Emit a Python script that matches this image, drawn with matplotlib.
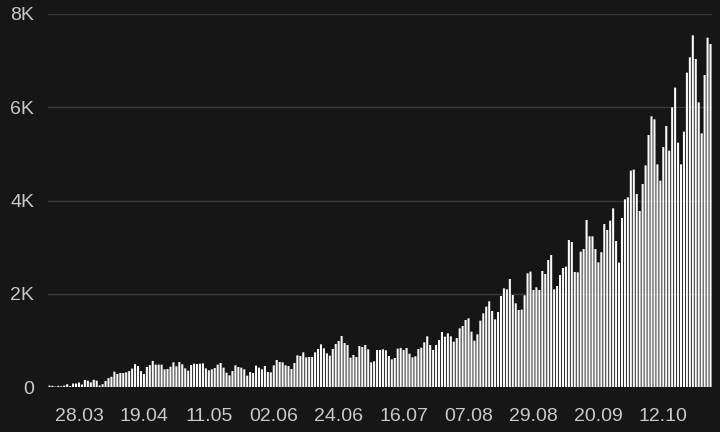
import numpy as np
import pandas as pd
import matplotlib
matplotlib.use("Agg")
import matplotlib.pyplot as plt
from matplotlib.ticker import FuncFormatter

# daily values (18.03 - 28.10)
start_date = "2020-03-18"
daily = [
    30, 25, 10, 25, 15, 30, 60, 20, 75, 75, 95, 55, 150, 135, 100, 155, 135, 30, 60, 130,
    190, 220, 330, 280, 300, 300, 315, 340, 395, 490, 450, 340, 280, 430, 470, 560, 480, 480,
    479, 379, 386, 436, 529, 443, 536, 486, 400, 350, 472, 500, 493, 500, 508, 400, 358, 379,
    408, 479, 515, 415, 307, 250, 343, 465, 429, 415, 379, 243, 322, 300, 458, 415, 379, 450,
    322, 315, 465,
    579, 536, 529, 465, 450, 386, 515, 679, 665, 744, 636, 644, 644, 744, 815, 915, 829, 722,
    672, 815, 922, 987, 1094, 944, 901, 629, 686, 644, 879, 858, 901, 808, 529, 551, 794, 794,
    808, 787, 665, 593, 622,
    822, 837, 794, 837, 715, 636, 658, 815, 844, 958, 1087, 901, 794, 901, 1008, 1180, 1080,
    1151, 1087, 972, 1051, 1258, 1308, 1437, 1473, 1187, 994, 1130, 1423, 1580, 1723, 1838,
    1630, 1451, 1609, 1952, 2116, 2095, 2317,
    1973, 1795, 1652, 1659, 1966, 2438, 2474, 2081, 2138, 2081, 2488, 2424, 2724, 2831, 2095,
    2166, 2402, 2553, 2581, 3153, 3110, 2467, 2460, 2903, 2960, 3582, 3232, 3232, 2960, 2674,
    2889, 3496, 3368, 3568, 3832,
    3132, 2667, 3625, 4025, 4068, 4640, 4662, 4140, 3775, 4354, 4755, 5405, 5806, 5741, 4776,
    4426, 5148, 5598, 5069, 5999, 6421, 5241, 4776, 5477, 6742, 7071, 7543, 7035, 6106, 5441,
    6692, 7493, 7357,
]
x_ticks = ["28.03", "19.04", "11.05", "02.06", "24.06", "16.07", "07.08", "29.08", "20.09", "12.10"]
y_ticks = [0, 2000, 4000, 6000, 8000]

bg = "#161616"
txt = "#c9c9c9"

plt.rcParams["font.family"] = ["Liberation Sans", "DejaVu Sans"]

dates = pd.date_range(start_date, periods=len(daily))
day_labels = list(dates.strftime("%d.%m"))
xpos = np.arange(len(daily))

fig = plt.figure(figsize=(7.2, 4.32), dpi=100, facecolor=bg)
ax = fig.add_axes([48 / 720, 1 - 387 / 432, 664 / 720, 373 / 432])
ax.set_facecolor(bg)

bars = ax.bar(xpos, daily, width=0.7, color="#fafafa", linewidth=0, zorder=3)
for b in bars:
    b.set_snap(False)

ax.set_xlim(-0.5, len(daily) - 0.5)
ax.set_ylim(0, 8000)
ax.set_yticks(y_ticks)
ax.yaxis.set_major_formatter(FuncFormatter(lambda v, p: "0" if v == 0 else f"{int(v / 1000)}K"))
ax.set_xticks([day_labels.index(t) for t in x_ticks])
ax.set_xticklabels(x_ticks)

ax.grid(axis="y", color="#3a3a3a", linewidth=1, zorder=0)
ax.grid(axis="x", visible=False)
for s in ax.spines.values():
    s.set_visible(False)
ax.tick_params(axis="both", length=0, colors=txt, labelsize=14)
ax.tick_params(axis="x", pad=15)
ax.tick_params(axis="y", pad=10)

fig.savefig("out.png", dpi=100, facecolor=bg)
